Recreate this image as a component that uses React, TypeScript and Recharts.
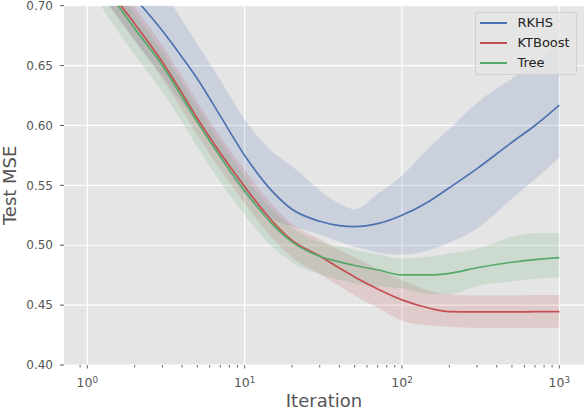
import React from 'react';
import { ComposedChart, Area, Line, XAxis, YAxis, CartesianGrid, Legend } from 'recharts';

// boosting iterations (log axis)
const iterations = [1, 1.5, 2, 3, 4, 5, 7, 10, 15, 20, 30, 40, 50, 70, 100, 150, 200, 300, 500, 700, 1000];

const rkhsMean = [0.757, 0.728, 0.707, 0.679, 0.657, 0.639, 0.608, 0.575, 0.545, 0.530, 0.520, 0.5163, 0.5155, 0.518, 0.525, 0.537, 0.548, 0.564, 0.586, 0.600, 0.617];
const rkhsHigh = [0.810, 0.777, 0.751, 0.714, 0.688, 0.668, 0.638, 0.605, 0.578, 0.566, 0.546, 0.535, 0.530, 0.543, 0.558, 0.582, 0.597, 0.619, 0.639, 0.652, 0.667];
const rkhsLow = [0.722, 0.694, 0.671, 0.641, 0.619, 0.602, 0.572, 0.542, 0.522, 0.516, 0.509, 0.503, 0.499, 0.494, 0.492, 0.496, 0.502, 0.514, 0.539, 0.555, 0.573];

const ktMean = [0.743, 0.707, 0.685, 0.653, 0.627, 0.606, 0.577, 0.549, 0.520, 0.504, 0.491, 0.481, 0.4735, 0.4635, 0.4544, 0.4474, 0.4446, 0.4443, 0.4443, 0.4445, 0.4446];
const ktHigh = [0.757, 0.721, 0.699, 0.667, 0.641, 0.620, 0.591, 0.563, 0.534, 0.518, 0.505, 0.496, 0.490, 0.480, 0.471, 0.462, 0.459, 0.458, 0.458, 0.4585, 0.4585];
const ktLow = [0.729, 0.693, 0.671, 0.639, 0.613, 0.592, 0.563, 0.535, 0.506, 0.490, 0.476, 0.466, 0.458, 0.448, 0.437, 0.433, 0.432, 0.431, 0.431, 0.431, 0.4308];

const treeMean = [0.740, 0.704, 0.681, 0.650, 0.624, 0.603, 0.574, 0.5455, 0.5176, 0.5028, 0.4908, 0.4861, 0.4831, 0.4795, 0.4752, 0.4752, 0.4765, 0.4812, 0.4858, 0.488, 0.4897];
const treeHigh = [0.752, 0.716, 0.693, 0.662, 0.636, 0.615, 0.586, 0.5575, 0.5296, 0.5148, 0.5028, 0.4991, 0.4961, 0.4925, 0.489, 0.4905, 0.493, 0.497, 0.507, 0.510, 0.510];
const treeLow = [0.718, 0.682, 0.659, 0.628, 0.603, 0.582, 0.553, 0.5255, 0.4986, 0.4858, 0.4758, 0.4711, 0.4681, 0.4655, 0.464, 0.459, 0.459, 0.466, 0.470, 0.472, 0.473];

const majorTicks = [1, 10, 100, 1000];
const minorTicks = [0.9, 2, 3, 4, 5, 6, 7, 8, 9, 20, 30, 40, 50, 60, 70, 80, 90, 200, 300, 400, 500, 600, 700, 800, 900];
const yTicks = [0.4, 0.45, 0.5, 0.55, 0.6, 0.65, 0.7];

const series = [
  { name: 'RKHS', color: '#4C72B0' },
  { name: 'KTBoost', color: '#C44E52' },
  { name: 'Tree', color: '#55A868' },
];

const data = iterations.map((it, i) => ({
  it,
  rkhs: rkhsMean[i],
  rkhsBand: [rkhsLow[i], rkhsHigh[i]],
  kt: ktMean[i],
  ktBand: [ktLow[i], ktHigh[i]],
  tree: treeMean[i],
  treeBand: [treeLow[i], treeHigh[i]],
}));

const xTicks = [...majorTicks, ...minorTicks].sort((a, b) => a - b);

const LogTick = ({ x, y, payload }: any) => {
  const v = payload.value;
  const exp = Math.round(Math.log10(v));
  const major = majorTicks.includes(v);
  return (
    <g>
      <line x1={x} y1={y} x2={x} y2={y + (major ? 3.5 : 2.5)} stroke="#555" strokeWidth={0.9} />
      {major && (
        <text x={x} y={y + 21.5} textAnchor="middle" fill="#555" fontSize={12.5}>
          10<tspan dy={-4} fontSize={8.8}>{exp}</tspan>
        </text>
      )}
    </g>
  );
};

const LegendBox = () => (
  <div
    style={{
      boxSizing: 'border-box',
      width: 102,
      height: 63,
      background: 'rgba(229,229,229,0.8)',
      border: '1px solid #d0d0d0',
      borderRadius: 3,
      padding: '0 0 0 4px',
      fontFamily: 'DejaVu Sans',
      fontSize: 13,
      color: '#222',
    }}
  >
    {series.map(s => (
      <div key={s.name} style={{ display: 'flex', alignItems: 'center', height: 20.3 }}>
        <span style={{ display: 'inline-block', width: 27, height: 2, background: s.color, marginRight: 11 }} />
        <span style={{ lineHeight: '20px' }}>{s.name}</span>
      </div>
    ))}
  </div>
);

export default function App() {
  return (
    <div style={{ width: 584, height: 410, fontFamily: 'DejaVu Sans' }}>
      <style>{'body{margin:0}'}</style>
      <ComposedChart
        width={584}
        height={410}
        data={data}
        margin={{ top: 5.7, right: 0, bottom: 0, left: 0 }}
      >
        <CartesianGrid
          fill="#E5E5E5"
          stroke="#ffffff"
          strokeWidth={1.2}
          verticalValues={majorTicks}
          horizontalValues={yTicks}
        />
        <XAxis
          dataKey="it"
          type="number"
          scale="log"
          domain={[0.711, 1435]}
          allowDataOverflow
          ticks={xTicks}
          interval={0}
          tick={<LogTick />}
          tickLine={false}
          tickSize={0}
          tickMargin={0}
          axisLine={false}
          height={45}
          label={{ value: 'Iteration', position: 'insideBottom', offset: 3, fill: '#555', fontSize: 18 }}
        />
        <YAxis
          type="number"
          domain={[0.4, 0.7]}
          allowDataOverflow
          ticks={yTicks}
          interval={0}
          tickFormatter={(v: number) => v.toFixed(2)}
          tick={{ fill: '#555', fontSize: 12 }}
          tickLine={{ stroke: '#555' }}
          tickSize={4}
          tickMargin={7}
          axisLine={false}
          width={64}
          label={{ value: 'Test MSE', angle: -90, position: 'insideLeft', offset: 10, fill: '#555', fontSize: 18, style: { textAnchor: 'middle' } }}
        />
        <Legend
          layout="horizontal"
          verticalAlign="middle"
          align="center"
          content={<LegendBox />}
          wrapperStyle={{ top: 11.5, left: 474.5, width: 'auto', height: 'auto' }}
        />
        <Area type="monotone" dataKey="rkhsBand" stroke="none" fill="#4C72B0" fillOpacity={0.17} isAnimationActive={false} legendType="none" dot={false} activeDot={false} />
        <Area type="monotone" dataKey="ktBand" stroke="none" fill="#C44E52" fillOpacity={0.17} isAnimationActive={false} legendType="none" dot={false} activeDot={false} />
        <Area type="monotone" dataKey="treeBand" stroke="none" fill="#55A868" fillOpacity={0.17} isAnimationActive={false} legendType="none" dot={false} activeDot={false} />
        <Line type="monotone" dataKey="rkhs" name="RKHS" stroke="#4C72B0" strokeWidth={1.7} dot={false} isAnimationActive={false} />
        <Line type="monotone" dataKey="kt" name="KTBoost" stroke="#C44E52" strokeWidth={1.7} dot={false} isAnimationActive={false} />
        <Line type="monotone" dataKey="tree" name="Tree" stroke="#55A868" strokeWidth={1.7} dot={false} isAnimationActive={false} />
      </ComposedChart>
    </div>
  );
}
